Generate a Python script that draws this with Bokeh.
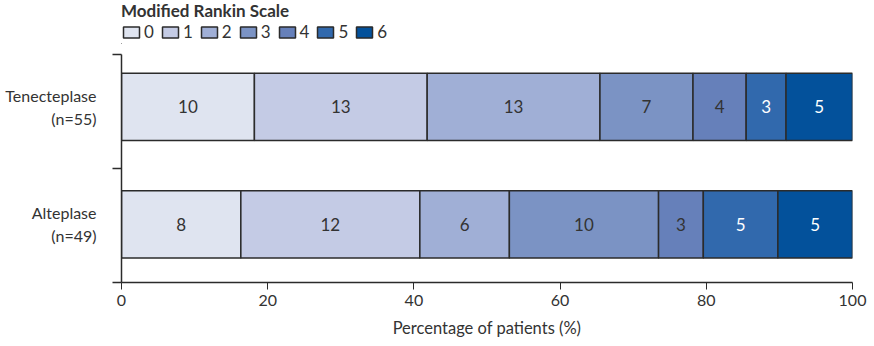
from bokeh.plotting import figure
from bokeh.layouts import column
from bokeh.models import FixedTicker, Legend, LegendItem, ColumnDataSource
from bokeh.core.properties import value
from bokeh.embed import file_html
from bokeh.resources import INLINE
import numpy as np

groups = ["Alteplase", "Tenecteplase"]
group_labels = ["Alteplase\n(n=49)", "Tenecteplase\n(n=55)"]
group_n = [49, 55]
mrs_levels = ["0", "1", "2", "3", "4", "5", "6"]
counts_alteplase = [8, 12, 6, 10, 3, 5, 5]
counts_tenecteplase = [10, 13, 13, 7, 4, 3, 5]
colors = ["#dfe4f0", "#c4cbe5", "#a0afd6", "#7b93c4", "#6680ba", "#3169ad", "#03519b"]
text_colors = ["#333333"] * 5 + ["#ffffff"] * 2

FONT = "Lato"
DARK = "#2b2b2b"

# ---------- legend strip ----------
lg = figure(width=874, height=44, output_backend="svg", toolbar_location=None,
            x_range=(0, 1), y_range=(0, 1), x_axis_location=None, y_axis_location=None,
            min_border_left=121, min_border_right=22, min_border_top=0, min_border_bottom=0)
lg.outline_line_color = None
lg.xgrid.grid_line_color = None
lg.ygrid.grid_line_color = None
lg_renderers = []
for k, lvl in enumerate(mrs_levels):
    # zero-size legend proxy glyphs, kept outside the visible range
    r = lg.hbar(y=[-10], left=[-10], right=[-10], height=0.0,
                fill_color=colors[k], line_color=DARK, line_width=1.5)
    lg_renderers.append(r)
legend = Legend(items=[LegendItem(label=lvl, renderers=[r]) for lvl, r in zip(mrs_levels, lg_renderers)],
                orientation="horizontal", location="top_left", title="Modified Rankin Scale")
legend.title_text_font = FONT
legend.title_text_font_style = "bold"
legend.title_text_font_size = "17px"
legend.title_text_color = "#333333"
legend.title_standoff = 0
legend.label_text_font = FONT
legend.label_text_font_size = "17px"
legend.label_text_color = "#333333"
legend.glyph_width = 20
legend.glyph_height = 14
legend.label_standoff = 3
legend.label_width = 0
legend.spacing = 6
legend.padding = 0
legend.margin = 0
legend.border_line_color = None
legend.background_fill_alpha = 0
lg.add_layout(legend, "center")

# ---------- main chart ----------
p = figure(width=874, height=302, output_backend="svg", toolbar_location=None,
           x_range=(0, 100), y_range=(0, 2),
           min_border_left=121, min_border_right=22, min_border_top=10, min_border_bottom=64)
p.outline_line_color = None
p.xgrid.grid_line_color = None
p.ygrid.grid_line_color = None

all_counts = [counts_alteplase, counts_tenecteplase]
ypos = [0.51, 1.54]
pct = [np.array(c) / n * 100 for c, n in zip(all_counts, group_n)]

for k, lvl in enumerate(mrs_levels):
    lefts = [float(np.sum(pc[:k])) for pc in pct]
    rights = [float(np.sum(pc[:k + 1])) for pc in pct]
    src = ColumnDataSource(dict(y=ypos, left=lefts, right=rights,
                                mid=[(a + b) / 2 for a, b in zip(lefts, rights)],
                                txt=[str(c[k]) for c in all_counts]))
    p.hbar(y="y", left="left", right="right", height=0.59, source=src,
           fill_color=colors[k], line_color=DARK, line_width=1.5)
    p.text(x="mid", y="y", text="txt", source=src, text_align="center",
           text_baseline="middle", text_font=value(FONT), text_font_size="17px",
           text_color=text_colors[k])

p.xaxis.ticker = FixedTicker(ticks=[0, 20, 40, 60, 80, 100])
p.xaxis.axis_label = "Percentage of patients (%)"
p.xaxis.axis_label_text_font = FONT
p.xaxis.axis_label_text_font_style = "normal"
p.xaxis.axis_label_text_font_size = "16.5px"
p.xaxis.axis_label_text_color = "#333333"
p.xaxis.axis_label_standoff = 9
p.xaxis.major_label_text_font = FONT
p.xaxis.major_label_text_font_size = "16px"
p.xaxis.major_label_text_color = "#333333"
p.xaxis.major_tick_in = 0
p.xaxis.major_tick_out = 7
p.xaxis.minor_tick_out = 0
p.xaxis.axis_line_color = DARK
p.xaxis.major_tick_line_color = DARK
p.xaxis.axis_line_width = 1.5

p.yaxis.ticker = FixedTicker(ticks=ypos, minor_ticks=[0, 1, 2])
p.yaxis.major_label_overrides = {y: lab for y, lab in zip(ypos, group_labels)}
p.yaxis.major_label_text_font = FONT
p.yaxis.major_label_text_font_size = "16px"
p.yaxis.major_label_text_color = "#333333"
p.yaxis.major_label_text_align = "right"
p.yaxis.major_tick_in = 0
p.yaxis.major_tick_out = 0
p.yaxis.minor_tick_in = 0
p.yaxis.minor_tick_out = 9
p.yaxis.minor_tick_line_color = DARK
p.yaxis.minor_tick_line_width = 1.5
p.yaxis.axis_line_color = DARK
p.yaxis.axis_line_width = 1.5
p.yaxis.major_label_standoff = 16

layout = column(lg, p, spacing=0)
open("out.html", "w").write(file_html(layout, INLINE))
